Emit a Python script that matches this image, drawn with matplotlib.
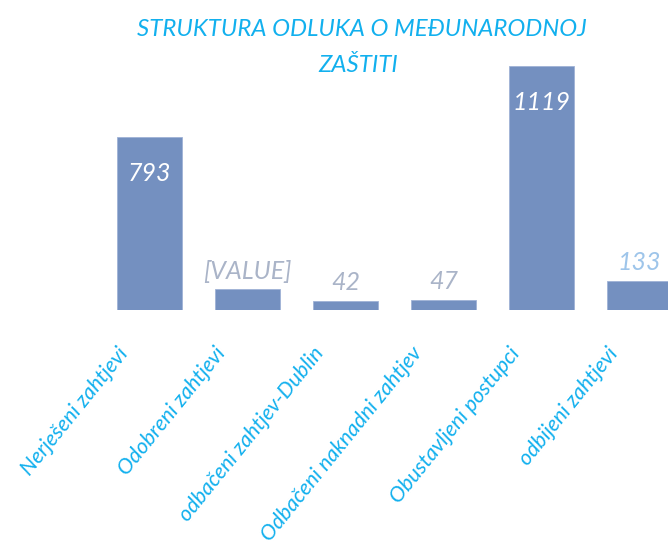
import matplotlib.pyplot as plt
from matplotlib.transforms import ScaledTranslation

categories = ["Nerješeni zahtjevi", "Odobreni zahtjevi", "odbačeni zahtjev-Dublin",
              "Odbačeni naknadni zahtjev", "Obustavljeni postupci", "odbijeni zahtjevi"]
values = [793, 96, 42, 47, 1119, 133]
value_labels = ["793", "[VALUE]", "42", "47", "1119", "133"]

bar_color = "#7490c0"
cyan = "#12b0ee"

plt.rcParams['font.family'] = ['Lato', 'DejaVu Sans']

fig = plt.figure(figsize=(6.68, 5.46), dpi=100)
ax = fig.add_axes([100.5 / 668, 236 / 546, 588 / 668, 244 / 546])

x = range(len(values))
bars = ax.bar(x, values, width=0.663, color=bar_color, edgecolor="#9fb2d6", linewidth=0.6)
ax.set_xlim(-0.5, 5.5)
ax.set_ylim(0, max(values))

# value labels: inside for the two tall bars, above for the rest
label_colors = ["white", "#aab4c8", "#aab4c8", "#aab4c8", "white", "#9ec5ea"]
for i, (v, lab) in enumerate(zip(values, value_labels)):
    inside = label_colors[i] == "white"
    dy = -36 if inside else 18
    ax.annotate(lab, (i, v), xytext=(0, dy), textcoords="offset pixels",
                ha="center", va="center", fontsize=18, style="italic",
                color=label_colors[i], annotation_clip=False)

ax.set_yticks([])
ax.set_xticks(list(x))
ax.set_xticklabels(categories, rotation=51, ha="right", rotation_mode="anchor",
                   fontsize=15.5, style="italic", color=cyan)
ax.tick_params(axis="x", length=0, pad=24)
shift = ScaledTranslation(-0.33, 0, fig.dpi_scale_trans)
for t in ax.get_xticklabels():
    t.set_transform(t.get_transform() + shift)
for s in ax.spines.values():
    s.set_visible(False)

fig.text(362 / 668, 1 - 30 / 546, "STRUKTURA ODLUKA O MEĐUNARODNOJ", ha="center", va="center",
         fontsize=17.3, style="italic", color=cyan)
fig.text(358 / 668, 1 - 65 / 546, "ZAŠTITI", ha="center", va="center",
         fontsize=17.3, style="italic", color=cyan)

fig.savefig("out.png", dpi=100)
